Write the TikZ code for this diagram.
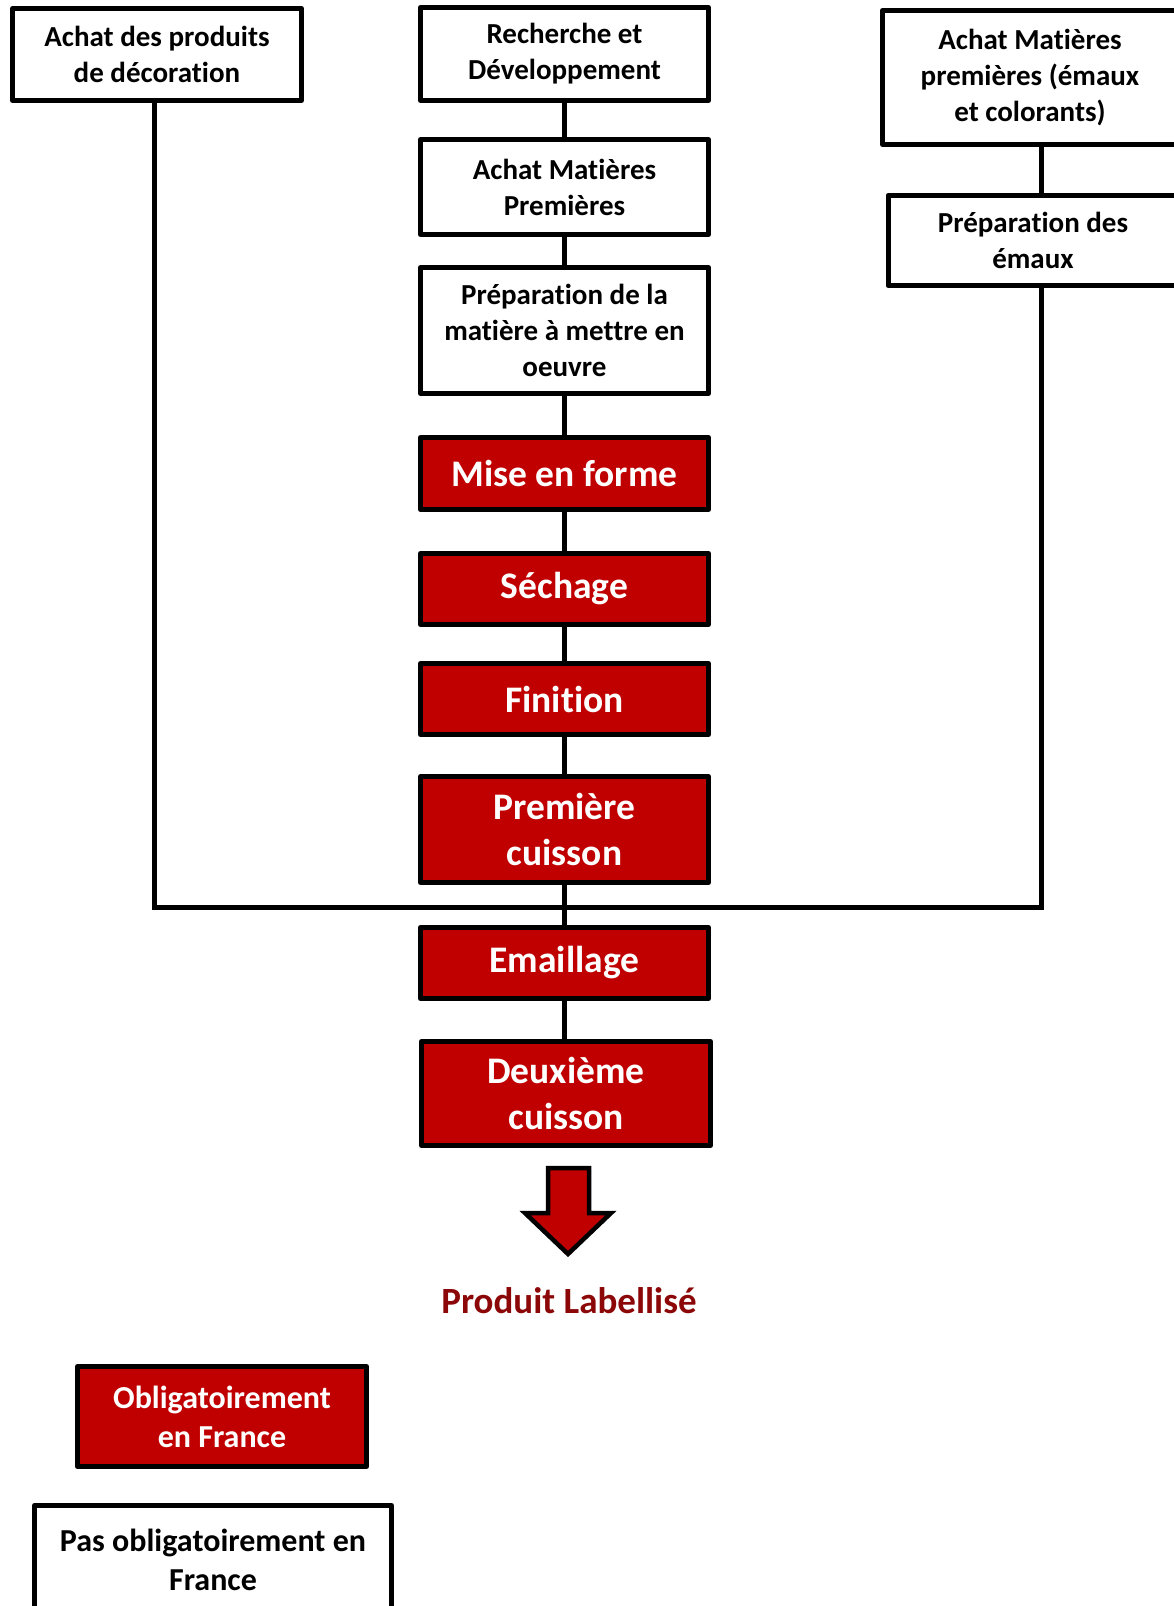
\documentclass[tikz,border=0pt]{standalone}
\usepackage{fontspec}
\setmainfont{Carlito}[Ligatures=NoCommon]
\definecolor{boxred}{RGB}{192,0,0}
\definecolor{labred}{RGB}{140,8,8}
\begin{document}
\begin{tikzpicture}[x=1pt,y=-1pt,
  base/.style={draw=black,line width=5pt,line join=round,align=center,inner sep=0pt,font=\bfseries},
  whitebox/.style={base,fill=white,font=\bfseries\fontsize{29}{36}\selectfont},
  redbox/.style={base,fill=boxred,text=white,font=\bfseries\fontsize{37.5}{45.5}\selectfont},
  legbox/.style={base,font=\bfseries\fontsize{32}{39}\selectfont},
  conn/.style={line width=5pt,line cap=rect}]
\useasboundingbox (0,0) rectangle (1174,1606);
\clip (0,0) rectangle (1174,1606);
% left
\node[whitebox,minimum width=289pt,minimum height=92pt] (A) at (157,54.5) {Achat des produits\\de décoration};
% center column
\node[whitebox,minimum width=288pt,minimum height=93pt] (RD) at (564.5,54) {Recherche et\\Développement};
\node[whitebox,minimum width=288pt,minimum height=95pt] (AMP) at (564.5,187) {Achat Matières\\Premières};
\node[whitebox,minimum width=288pt,minimum height=126pt] (PREP) at (564.5,330.5) {Préparation de la\\matière à mettre en\\oeuvre};
\node[redbox,minimum width=288pt,minimum height=72pt] (MEF) at (564.5,473.5) {Mise en forme};
\node[redbox,minimum width=288pt,minimum height=71pt] (SEC) at (564.5,589) {Séchage};
\node[redbox,minimum width=288pt,minimum height=71pt] (FIN) at (564.5,699) {Finition};
\node[redbox,minimum width=288pt,minimum height=106pt] (PC) at (564.5,829.5) {Première\\cuisson};
\node[redbox,minimum width=288pt,minimum height=71pt] (EM) at (564.5,963) {Emaillage};
\node[redbox,minimum width=289pt,minimum height=104pt] (DC) at (566,1093.5) {Deuxième\\cuisson};
% right column
\node[whitebox,minimum width=295pt,minimum height=134pt] (R1) at (1030,77.5) {Achat Matières\\premières (émaux\\et colorants)};
\node[whitebox,minimum width=290pt,minimum height=90pt] (R2) at (1033,240.5) {Préparation des\\émaux};
% legend
\node[legbox,fill=boxred,text=white,minimum width=289pt,minimum height=100pt] (L1) at (222,1416.5) {Obligatoirement\\en France};
\node[legbox,fill=white,minimum width=357pt,minimum height=109pt] (L2) at (213,1560) {Pas obligatoirement en\\France};
% junction coordinates
\coordinate (jl) at (154,907);
\coordinate (jr) at (1041,907);
% connectors
\draw[conn] (RD.south) -- (AMP.north);
\draw[conn] (AMP.south) -- (PREP.north);
\draw[conn] (PREP.south) -- (MEF.north);
\draw[conn] (MEF.south) -- (SEC.north);
\draw[conn] (SEC.south) -- (FIN.north);
\draw[conn] (FIN.south) -- (PC.north);
\draw[conn] (PC.south) -- (EM.north);
\draw[conn] (EM.south) -- (EM.south |- DC.north);
\draw[line width=5pt,line join=miter] (A.south -| jl) -- (jl) -- (jr) -- (R2.south -| jr);
\draw[conn] (R1.south -| jr) -- (R2.north -| jr);
% arrow
\draw[line width=4.5pt,fill=boxred,line join=miter]
  (548,1168) -- (589,1168) -- (589,1213) -- (611,1213) -- (568,1254) -- (525,1213) -- (548,1213) -- cycle;
\node[font=\bfseries\fontsize{37}{42}\selectfont,text=labred,inner sep=0pt] (PL) at (569,1301) {Produit Labellisé};
\end{tikzpicture}
\end{document}
